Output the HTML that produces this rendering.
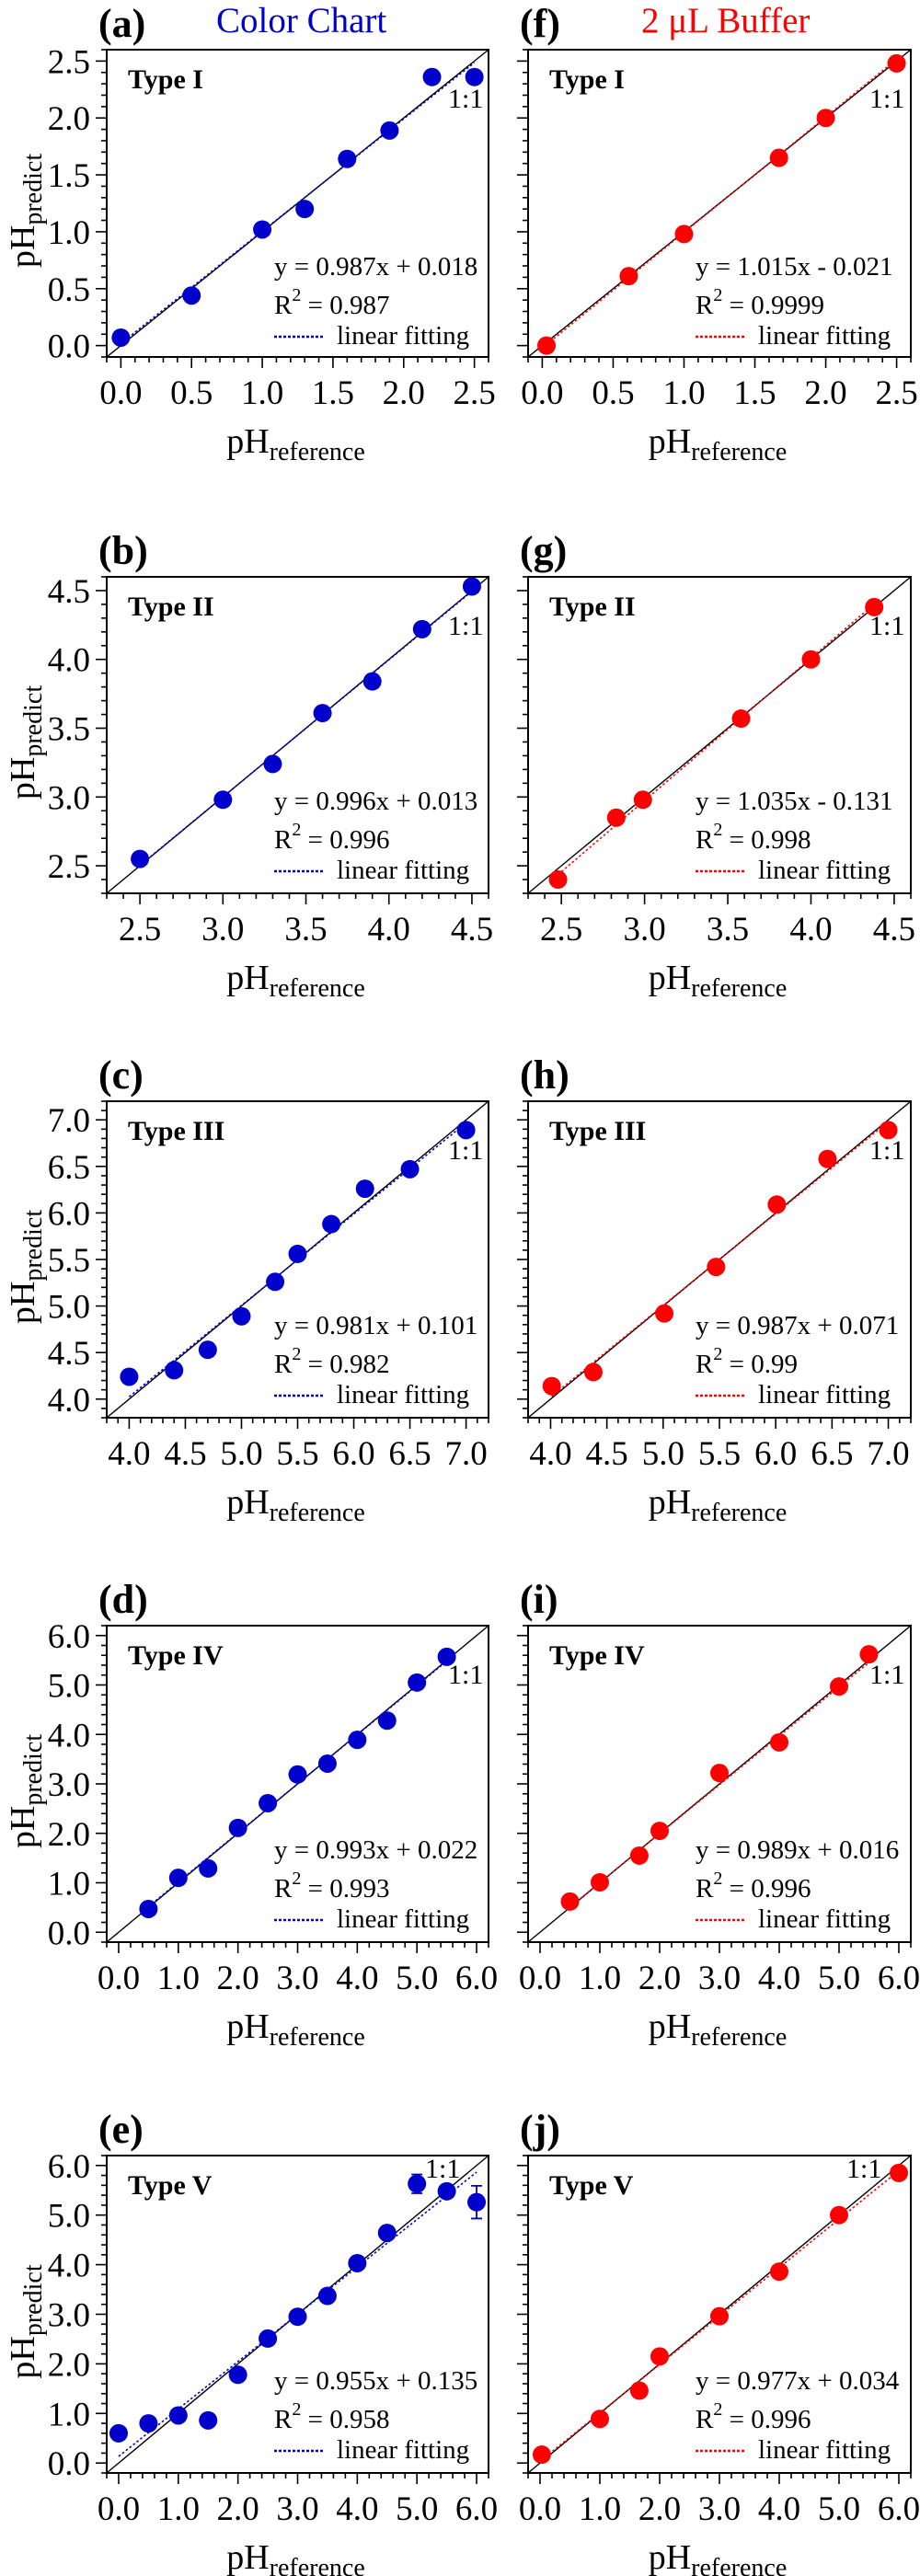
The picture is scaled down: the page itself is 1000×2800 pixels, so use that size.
<!DOCTYPE html>
<html><head><meta charset="utf-8"><style>
html,body{margin:0;padding:0;background:#fff}
svg{display:block;font-family:"Liberation Serif",serif}
</style></head><body>
<svg id="fig" width="1000" height="2800" viewBox="0 0 1000 2800" xmlns="http://www.w3.org/2000/svg">
<text x="235" y="35" font-size="39" fill="#0000cc">Color Chart</text>
<text x="697" y="35" font-size="39" fill="#ff0000">2 μL Buffer</text>
</svg>
<script>
// ---- data ----
const aX=[0.0,0.5,1.0,1.3,1.6,1.9,2.2,2.5];
const aY=[0.07,0.44,1.02,1.20,1.64,1.89,2.36,2.36];
const fX=[0.03,0.61,1.0,1.67,2.0,2.50];
const fY=[0.0,0.61,0.98,1.65,2.0,2.48];
const bX=[2.5,3.0,3.3,3.6,3.9,4.2,4.5];
const bY=[2.55,2.98,3.24,3.61,3.84,4.22,4.53];
const gX=[2.48,2.83,2.99,3.58,4.0,4.38];
const gY=[2.40,2.85,2.98,3.57,4.0,4.38];
const cX=[4.0,4.4,4.7,5.0,5.3,5.5,5.8,6.1,6.5,7.0];
const cY=[4.24,4.31,4.53,4.89,5.26,5.56,5.88,6.26,6.47,6.89];
const hX=[4.01,4.38,5.01,5.47,6.01,6.46,7.0];
const hY=[4.14,4.29,4.92,5.42,6.09,6.58,6.89];
const dX=[0.5,1.0,1.5,2.0,2.5,3.0,3.5,4.0,4.5,5.0,5.5];
const dY=[0.47,1.10,1.29,2.11,2.61,3.19,3.41,3.89,4.28,5.05,5.57];
const iX=[0.5,1.0,1.66,2.0,3.0,4.0,5.0,5.5];
const iY=[0.62,1.01,1.55,2.05,3.22,3.84,4.97,5.62];
const iErr=[0,0,0.12,0,0,0,0,0];
const eX=[0,0.5,1.0,1.5,2.0,2.5,3.0,3.5,4.0,4.5,5.0,5.5,6.0];
const eY=[0.60,0.80,0.96,0.86,1.78,2.51,2.95,3.37,4.03,4.64,5.63,5.48,5.26];
const eErr=[0,0,0,0,0,0,0,0,0,0,0.19,0,0.33];
const jX=[0.03,1.0,1.66,2.0,3.0,4.0,5.0,6.0];
const jY=[0.17,0.89,1.46,2.15,2.96,3.86,5.0,5.85];
const slopes=[0.987,1.015,0.996,1.035,0.981,0.987,0.993,0.989,0.955,0.977];
const intercepts=[0.018,-0.021,0.013,-0.131,0.101,0.071,0.022,0.016,0.135,0.034];
const eqLabels=["y = 0.987x + 0.018","y = 1.015x - 0.021","y = 0.996x + 0.013","y = 1.035x - 0.131","y = 0.981x + 0.101","y = 0.987x + 0.071","y = 0.993x + 0.022","y = 0.989x + 0.016","y = 0.955x + 0.135","y = 0.977x + 0.034"];
const r2Labels=["0.987","0.9999","0.996","0.998","0.982","0.99","0.993","0.996","0.958","0.996"];
const typeLabels=["Type I","Type II","Type III","Type IV","Type V"];
const tickLabelsA=["0.0","0.5","1.0","1.5","2.0","2.5"];
const tickLabelsB=["2.5","3.0","3.5","4.0","4.5"];
const tickLabelsC=["4.0","4.5","5.0","5.5","6.0","6.5","7.0"];
const tickLabelsD=["0.0","1.0","2.0","3.0","4.0","5.0","6.0"];
const letters=[["(a)","(f)"],["(b)","(g)"],["(c)","(h)"],["(d)","(i)"],["(e)","(j)"]];

// ---- layout ----
const NS="http://www.w3.org/2000/svg";
const svg=document.getElementById('fig');
const rows=[
 {top:54,bot:388,lo:-0.1,hi:2.6,major:0.5,minor:0.1,labels:tickLabelsA,lab0:0,one:'mid',
  L:{x:aX,y:aY,e:null},R:{x:fX,y:fY,e:null}},
 {top:627,bot:971,lo:2.3,hi:4.6,major:0.5,minor:0.1,labels:tickLabelsB,lab0:2.5,one:'mid',
  L:{x:bX,y:bY,e:null},R:{x:gX,y:gY,e:null}},
 {top:1197,bot:1541,lo:3.8,hi:7.2,major:0.5,minor:0.1,labels:tickLabelsC,lab0:4.0,one:'mid',
  L:{x:cX,y:cY,e:null},R:{x:hX,y:hY,e:null}},
 {top:1767,bot:2111,lo:-0.2,hi:6.2,major:1,minor:0.2,labels:tickLabelsD,lab0:0,one:'mid',
  L:{x:dX,y:dY,e:null},R:{x:iX,y:iY,e:iErr}},
 {top:2343,bot:2688,lo:-0.2,hi:6.2,major:1,minor:0.2,labels:tickLabelsD,lab0:0,one:'top',
  L:{x:eX,y:eY,e:eErr},R:{x:jX,y:jY,e:null}}
];
const cols=[{x0:116,x1:531,color:'#0000cc'},{x0:574,x1:990,color:'#ff0000'}];

function mk(tag,attrs,parent){const el=document.createElementNS(NS,tag);for(const k in attrs)el.setAttribute(k,attrs[k]);(parent||svg).appendChild(el);return el;}

rows.forEach((r,ri)=>{
 cols.forEach((c,ci)=>{
  const idx=ri*2+ci;
  const g=mk('g',{});
  
  
  const sx=v=>c.x0+(v-r.lo)/(r.hi-r.lo)*(c.x1-c.x0);
  const sy=v=>r.bot-(v-r.lo)/(r.hi-r.lo)*(r.bot-r.top);
  const lt=mk('text',{x:c.x0-9,y:r.top-14,'font-size':44,'font-weight':'bold'},g);lt.textContent=letters[ri][ci];
  
  
  const fr=mk('rect',{x:c.x0,y:r.top,width:c.x1-c.x0,height:r.bot-r.top,fill:'none',stroke:'#000','stroke-width':2},g);
  
  
  const n=Math.round((r.hi-r.lo)/r.minor);
  for(let k=0;k<=n;k++){
   const v=r.lo+k*r.minor;
   const isMaj=Math.abs(v/r.major-Math.round(v/r.major))<1e-6;
   const len=isMaj?12:6;
   const tx=mk('line',{x1:sx(v),x2:sx(v),y1:r.bot,y2:r.bot+len,stroke:'#000','stroke-width':1.6},g);
   
   
   const ty=mk('line',{x1:c.x0-len,x2:c.x0,y1:sy(v),y2:sy(v),stroke:'#000','stroke-width':1.6},g);
   
   
  }
  r.labels.forEach((lab,k)=>{
   const v=r.lab0+k*r.major;
   const xl=mk('text',{x:sx(v),y:r.bot+51,'font-size':37,'text-anchor':'middle'},g);xl.textContent=lab;
   
   
   if(ci===0){
    const yl=mk('text',{x:c.x0-18,y:sy(v)+13,'font-size':37,'text-anchor':'end'},g);yl.textContent=lab;
    
    
   }
  });
  const xt=mk('text',{x:(c.x0+c.x1)/2-2,y:r.bot+104,'font-size':38,'text-anchor':'middle'},g);
  xt.innerHTML='pH<tspan font-size="28" dy="8">reference</tspan>';
  
  
  if(ci===0){
   const cy=(r.top+r.bot)/2+8;
   const yt=mk('text',{x:0,y:0,'font-size':38,'text-anchor':'middle',transform:'translate(37,'+cy+') rotate(-90)'},g);
   yt.innerHTML='pH<tspan font-size="28" dy="8">predict</tspan>';
   
   
  }
  const dl=mk('line',{x1:sx(r.lo),y1:sy(r.lo),x2:sx(r.hi),y2:sy(r.hi),stroke:'#000','stroke-width':1.4},g);
  
  
  const d=[r.L,r.R][ci];
  const xmin=Math.min(...d.x),xmax=Math.max(...d.x);
  const m=slopes[idx],b0=intercepts[idx];
  const fl=mk('line',{x1:sx(xmin),y1:sy(m*xmin+b0),x2:sx(xmax),y2:sy(m*xmax+b0),stroke:c.color,'stroke-width':1.6,'stroke-dasharray':'2.5,2.5'},g);
  
  
  d.x.forEach((xv,k)=>{
   const yv=d.y[k];
   if(d.e&&d.e[k]>0){
    const e=d.e[k];
    const eb=mk('path',{d:'M'+sx(xv)+','+sy(yv-e)+'V'+sy(yv+e)+'M'+(sx(xv)-6)+','+sy(yv-e)+'h12M'+(sx(xv)-6)+','+sy(yv+e)+'h12',stroke:c.color,'stroke-width':1.8,fill:'none'},g);
    
    
   }
   const p=mk('circle',{cx:sx(xv),cy:sy(yv),r:10,fill:c.color},g);
   
   
  });
  const tl=mk('text',{x:c.x0+23,y:r.top+42,'font-size':30,'font-weight':'bold'},g);tl.textContent=typeLabels[ri];
  
  
  const oy=r.one==='top'?r.top+24:r.top+63;
  const ox=r.one==='top'?c.x0+346:c.x0+371;
  const one=mk('text',{x:ox,y:oy,'font-size':30},g);one.textContent='1:1';
  
  
  const base=r.top+Math.round((r.bot-r.top)*0.735);
  const eq=mk('text',{x:c.x0+182,y:base,'font-size':29},g);eq.textContent=eqLabels[idx];
  
  
  const r2=mk('text',{x:c.x0+182,y:base+42,'font-size':29},g);
  r2.innerHTML='R<tspan font-size="20" dy="-14">2</tspan><tspan dy="14"> = '+r2Labels[idx]+'</tspan>';
  
  
  const ll=mk('line',{x1:c.x0+182,x2:c.x0+237,y1:base+67,y2:base+67,stroke:c.color,'stroke-width':2.5,'stroke-dasharray':'3,2'},g);
  
  
  const lg=mk('text',{x:c.x0+250,y:base+75,'font-size':29},g);lg.textContent='linear fitting';
  
  
 });
});
</script>
</body></html>
